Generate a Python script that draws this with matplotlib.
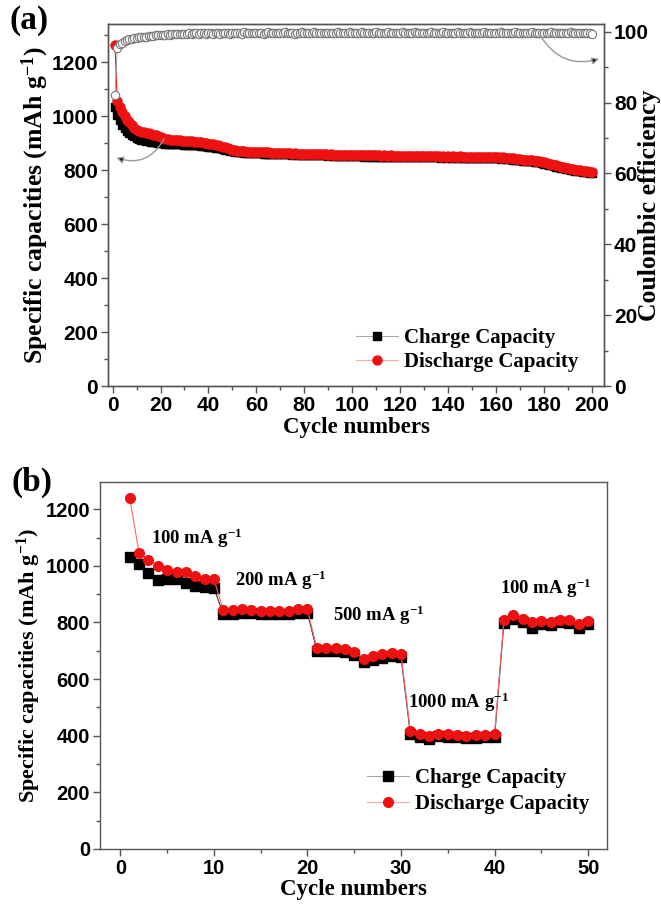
import numpy as np
import matplotlib
matplotlib.use("Agg")
import matplotlib.pyplot as plt
from matplotlib.ticker import MultipleLocator
from matplotlib.font_manager import FontProperties

plt.rcParams['mathtext.fontset'] = 'custom'
plt.rcParams['mathtext.rm'] = 'Liberation Serif:bold'
plt.rcParams['mathtext.it'] = 'Liberation Serif:bold'
plt.rcParams['mathtext.bf'] = 'Liberation Serif:bold'

# ---- panel (a): long cycling ----
discharge_a = [1265, 1055, 1035, 1015, 1000, 988, 977, 967, 958, 951,
               946, 943, 941, 939, 937, 935, 932, 929, 926, 922,
               919, 917, 915, 914, 913, 912, 911, 911, 910, 909,
               908, 907, 907, 906, 905, 904, 903, 902, 900, 899,
               898, 897, 895, 893, 891, 888, 885, 882, 879, 876,
               874, 872, 871, 870, 870, 869, 869, 868, 868, 867,
               867, 867, 866, 866, 866, 865, 865, 865, 864, 864,
               864, 863, 864, 863, 862, 863, 862, 862, 861, 862,
               861, 860, 861, 860, 860, 859, 860, 859, 859, 858,
               859, 858, 858, 857, 858, 857, 857, 857, 856, 857,
               856, 856, 857, 856, 855, 856, 855, 855, 856, 855,
               855, 854, 855, 854, 854, 855, 854, 854, 853, 854,
               853, 854, 853, 853, 854, 853, 853, 852, 853, 852,
               853, 852, 852, 853, 852, 852, 851, 852, 851, 852,
               851, 852, 851, 851, 852, 850, 851, 850, 851, 850,
               851, 850, 850, 851, 849, 850, 849, 848, 849, 848,
               848, 847, 848, 846, 845, 846, 844, 843, 843, 841,
               840, 840, 838, 837, 837, 835, 834, 833, 831, 829,
               827, 825, 822, 820, 818, 816, 814, 812, 810, 808,
               806, 805, 803, 801, 800, 798, 797, 796, 795, 794]

charge_a = [1035, 1005, 985, 968, 957, 947, 939, 932, 926, 921,
            917, 914, 911, 909, 907, 905, 904, 903, 902, 901,
            900, 899, 899, 898, 898, 897, 897, 896, 896, 895,
            895, 894, 894, 893, 893, 892, 891, 890, 889, 888,
            887, 886, 884, 883, 881, 879, 877, 875, 872, 870,
            868, 867, 866, 866, 865, 865, 864, 864, 864, 863,
            863, 863, 862, 862, 862, 861, 861, 861, 860, 860,
            860, 859, 860, 859, 858, 859, 858, 858, 857, 858,
            857, 856, 857, 856, 856, 855, 856, 855, 855, 854,
            855, 854, 854, 853, 854, 853, 853, 853, 852, 853,
            852, 852, 853, 852, 851, 852, 851, 851, 852, 851,
            851, 850, 851, 850, 850, 851, 850, 850, 849, 850,
            849, 850, 849, 849, 850, 849, 849, 848, 849, 848,
            849, 848, 848, 849, 848, 848, 847, 848, 847, 848,
            847, 848, 847, 847, 848, 846, 847, 846, 847, 846,
            847, 846, 846, 847, 845, 846, 845, 844, 845, 844,
            844, 843, 844, 842, 841, 842, 840, 839, 839, 837,
            836, 836, 834, 833, 833, 831, 830, 829, 827, 825,
            823, 821, 818, 816, 814, 812, 810, 808, 806, 804,
            802, 801, 799, 797, 796, 794, 793, 792, 791, 790]

ce_a = [82.0, 95.5, 96.4, 96.9, 97.3, 97.6, 97.8, 98.0, 98.2, 98.3,
        98.4, 98.5, 98.6, 98.6, 98.7, 98.8, 98.8, 98.9, 99.0, 99.0,
        99.1, 99.0, 99.2, 99.1, 99.3, 99.2, 99.2, 99.4, 99.3, 99.3,
        99.4, 99.6, 99.3, 99.5, 99.7, 99.4, 99.5, 99.6, 99.3, 99.5,
        99.6, 99.4, 99.7, 99.5, 99.3, 99.6, 99.5, 99.7, 99.4, 99.6,
        99.5, 99.7, 99.6, 99.4, 99.8, 99.5, 99.6, 99.7, 99.5, 99.6,
        99.7, 99.5, 99.4, 99.6, 99.8, 99.6, 99.5, 99.7, 99.6, 99.5,
        99.6, 99.8, 99.5, 99.7, 99.6, 99.4, 99.7, 99.6, 99.8, 99.5,
        99.7, 99.5, 99.6, 99.8, 99.6, 99.7, 99.5, 99.6, 99.7, 99.5,
        99.6, 99.7, 99.5, 99.8, 99.6, 99.5, 99.7, 99.6, 99.8, 99.6,
        99.5, 99.7, 99.6, 99.8, 99.5, 99.6, 99.7, 99.5, 99.6, 99.8,
        99.6, 99.5, 99.7, 99.6, 99.8, 99.5, 99.7, 99.6, 99.5, 99.7,
        99.8, 99.6, 99.5, 99.7, 99.6, 99.8, 99.6, 99.5, 99.7, 99.6,
        99.5, 99.7, 99.8, 99.6, 99.5, 99.7, 99.6, 99.8, 99.5, 99.6,
        99.7, 99.6, 99.5, 99.8, 99.6, 99.7, 99.5, 99.6, 99.8, 99.6,
        99.7, 99.5, 99.6, 99.7, 99.8, 99.6, 99.5, 99.7, 99.6, 99.5,
        99.6, 99.8, 99.7, 99.5, 99.6, 99.7, 99.6, 99.8, 99.5, 99.7,
        99.6, 99.5, 99.7, 99.6, 99.8, 99.6, 99.5, 99.7, 99.6, 99.7,
        99.5, 99.6, 99.8, 99.6, 99.5, 99.7, 99.6, 99.5, 99.7, 99.6,
        99.8, 99.6, 99.5, 99.7, 99.6, 99.5, 99.7, 99.6, 99.5, 99.4]

# ---- panel (b): rate capability ----
charge_b = [1030, 1005, 975, 950, 952, 952, 940, 930, 926, 922,
            830, 830, 835, 832, 830, 830, 830, 830, 835, 835,
            700, 700, 700, 695, 685, 662, 668, 675, 680, 678,
            405, 395, 388, 398, 395, 395, 392, 393, 395, 395,
            798, 812, 800, 782, 795, 792, 800, 798, 782, 795]
discharge_b = [1240, 1045, 1022, 1000, 985, 980, 980, 965, 952, 952,
               845, 845, 848, 843, 842, 842, 842, 842, 848, 846,
               710, 710, 710, 705, 695, 672, 680, 688, 693, 688,
               415, 405, 398, 405, 405, 402, 400, 402, 403, 405,
               810, 825, 812, 800, 805, 802, 810, 808, 795, 805]
rate_labels = ['100 mA g$^{-1}$', '200 mA g$^{-1}$', '500 mA g$^{-1}$',
               '1000 mA g$^{-1}$', '100 mA g$^{-1}$']
rate_label_pos = [(3.3, 1097), (12.3, 949), (22.7, 825), (30.8, 518), (40.6, 920)]

cycles_a = np.arange(1, len(discharge_a) + 1)
cycles_b = np.arange(1, len(discharge_b) + 1)

RED = '#ee1111'
SPINE = '#555555'
serif = 'Liberation Serif'


def style_axis(ax, tsize):
    for s in ax.spines.values():
        s.set_color(SPINE)
        s.set_linewidth(1.0)
    ax.tick_params(which='both', direction='out', color=SPINE, width=1.0, pad=2)
    ax.tick_params(which='major', length=5)
    ax.tick_params(which='minor', length=3)
    fp = FontProperties(family='Liberation Sans', weight='bold', size=tsize)
    for lab in ax.get_xticklabels() + ax.get_yticklabels():
        lab.set_fontproperties(fp)


fig = plt.figure(figsize=(6.61, 9.05), dpi=100)

# (a)
ax = fig.add_axes([0.163, 0.573, 0.751, 0.400])
ax.plot(cycles_a, charge_a, '-s', color='black', mfc='black', mec='black', ms=5.5,
        lw=0.8, label='Charge Capacity')
ax.plot(cycles_a, discharge_a, '-o', color=RED, mfc=RED, mec=RED, ms=6.5,
        lw=0.8, label='Discharge Capacity')
ax.set_xlim(-2, 205)
ax.set_ylim(0, 1340)
ax.xaxis.set_major_locator(MultipleLocator(20))
ax.xaxis.set_minor_locator(MultipleLocator(10))
ax.yaxis.set_major_locator(MultipleLocator(200))
ax.yaxis.set_minor_locator(MultipleLocator(100))
ax.set_xlabel('Cycle numbers', family=serif, weight='bold', size=16.5, labelpad=1)
ax.set_ylabel('Specific capacities (mAh g$^{-1}$)', family=serif, weight='bold',
              size=18.5, va='center')
ax.yaxis.set_label_coords(-0.145, 0.5)
style_axis(ax, 15)

ax2 = ax.twinx()
ax2.plot(cycles_a, ce_a, '-o', color='#999999', mfc='white', mec='#777777', ms=6,
         lw=0.6, mew=0.8)
ax2.set_ylim(0, 102)
ax2.yaxis.set_major_locator(MultipleLocator(20))
ax2.yaxis.set_minor_locator(MultipleLocator(10))
ax2.set_ylabel('Coulombic efficiency', family=serif, weight='bold', size=18.5,
               va='center')
ax2.yaxis.set_label_coords(1.092, 0.5)
style_axis(ax2, 15)

ax.annotate('', xy=(0.5, 850), xytext=(22, 925),
            arrowprops=dict(arrowstyle='-|>', ec='#999999', fc='black', lw=1,
                            connectionstyle='arc3,rad=-0.45', mutation_scale=10))
ax2.annotate('', xy=(204, 92.5), xytext=(178, 99.3),
             arrowprops=dict(arrowstyle='-|>', ec='#999999', fc='black', lw=1,
                             connectionstyle='arc3,rad=0.4', mutation_scale=10))

leg = ax.legend(loc='lower left', bbox_to_anchor=(0.462, -0.012), frameon=False,
                handlelength=2.0, handletextpad=0.3, labelspacing=0.2,
                prop=dict(family=serif, weight='bold', size=15))
leg.get_lines()[0].set_color('#aaaaaa')
leg.get_lines()[1].set_color('#ffaaaa')
fig.text(0.015, 0.994, '(a)', family=serif, weight='bold', size=24, va='top')

# (b)
bx = fig.add_axes([0.151, 0.062, 0.767, 0.405])
bx.plot(cycles_b, charge_b, '-s', color='#333333', mfc='black', mec='black', ms=6.5,
        lw=0.8, label='Charge Capacity')
bx.plot(cycles_b, discharge_b, '-o', color='#ff6666', mfc=RED, mec=RED, ms=7,
        lw=0.8, label='Discharge Capacity')
for txt, (x, y) in zip(rate_labels, rate_label_pos):
    bx.text(x, y, txt, family=serif, weight='bold', size=13.5,
            va='center', ha='left')
bx.set_xlim(-2.2, 52)
bx.set_ylim(0, 1295)
bx.xaxis.set_major_locator(MultipleLocator(10))
bx.xaxis.set_minor_locator(MultipleLocator(5))
bx.yaxis.set_major_locator(MultipleLocator(200))
bx.yaxis.set_minor_locator(MultipleLocator(100))
bx.set_xlabel('Cycle numbers', family=serif, weight='bold', size=16.5, labelpad=1)
bx.set_ylabel('Specific capacities (mAh g$^{-1}$)', family=serif, weight='bold',
              size=16, va='center')
bx.yaxis.set_label_coords(-0.14, 0.5)
style_axis(bx, 14.5)
bx.tick_params(top=False, right=False)
leg = bx.legend(loc='lower left', bbox_to_anchor=(0.49, 0.043), frameon=False,
                handlelength=2.0, handletextpad=0.3, labelspacing=0.3,
                prop=dict(family=serif, weight='bold', size=15))
leg.get_lines()[0].set_color('#aaaaaa')
leg.get_lines()[1].set_color('#ffaaaa')
fig.text(0.018, 0.484, '(b)', family=serif, weight='bold', size=24, va='top')

fig.savefig('out.png', dpi=100)
